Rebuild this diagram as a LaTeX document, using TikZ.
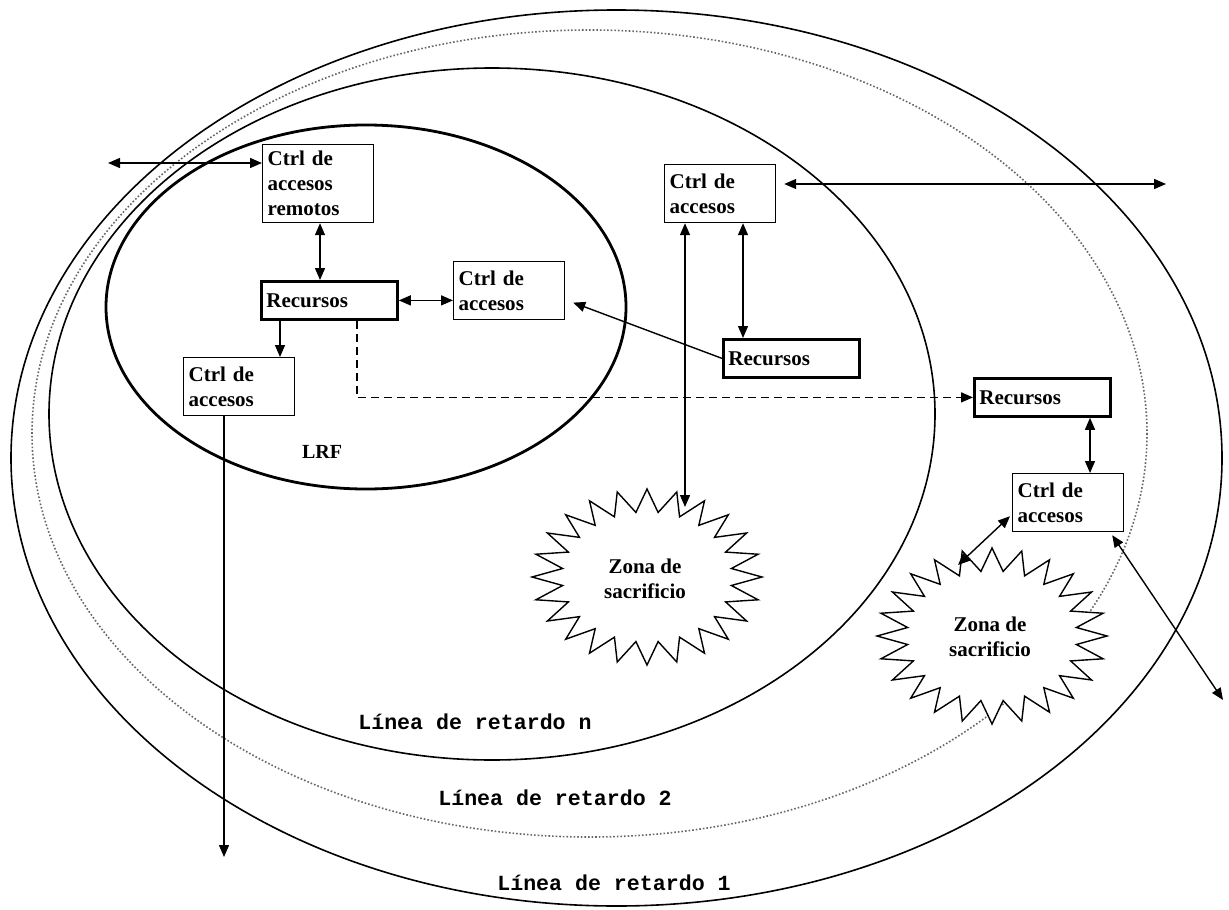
\documentclass[tikz,border=0pt]{standalone}
\usepackage{fontspec}
\setmainfont{Liberation Serif}
\newfontfamily\lineafont{Liberation Mono}
\usepackage{tikz}
\usetikzlibrary{arrows.meta,positioning,calc,backgrounds}

\begin{document}
\begin{tikzpicture}[x=0.5pt, y=-0.5pt,
  font=\bfseries\fontsize{10.5}{12.5}\selectfont,
  ctrl/.style={rectangle, draw=black, line width=0.6pt, fill=white, anchor=north west,
               align=left, inner sep=2.5pt, text width=50.5pt, minimum height=29pt},
  rec/.style={rectangle, draw=black, line width=1.4pt, fill=white, anchor=north west,
              align=left, inner sep=2.5pt, text width=63pt, minimum height=19pt},
  ring/.style={line width=0.8pt},
  lbl/.style={font=\lineafont\bfseries\fontsize{10.8}{13}\selectfont},
  spiky/.style={draw, line width=0.7pt, fill=white},
  ar/.style={{Triangle[length=6pt,width=5pt]}-{Triangle[length=6pt,width=5pt]}, line width=0.7pt},
  arr/.style={-{Triangle[length=6pt,width=5pt]}, line width=0.7pt}]
  \useasboundingbox (0,0) rectangle (1229,909);
  % delay lines
  \begin{scope}[on background layer]
    \fill[white] (0,0) rectangle (1229,909);
    \draw[ring] (616.5,458) ellipse [x radius=605.5, y radius=448];
    \draw[ring, densely dotted, black!60] (589.5,433.5) ellipse [x radius=557.5, y radius=403.5];
    \draw[ring] (492,414) ellipse [x radius=443, y radius=346];
    \draw[line width=1.4pt] (366,307) ellipse [x radius=260, y radius=182];
  \end{scope}
  % sacrifice zones
  \draw[spiky] plot[domain=0:360, samples=49, variable=\t]
    ({647+115*(1-0.26*mod(round(\t/7.5),2))*cos(\t)}, {577+88*(1-0.26*mod(round(\t/7.5),2))*sin(\t)}) -- cycle;
  \draw[spiky] plot[domain=0:360, samples=49, variable=\t]
    ({992+115*(1-0.26*mod(round(\t/7.5),2))*cos(\t)}, {636+88*(1-0.26*mod(round(\t/7.5),2))*sin(\t)}) -- cycle;
  \node[align=center] (zona1) at (645,579) {Zona de\\sacrificio};
  \node[align=center] (zona2) at (990,637) {Zona de\\sacrificio};
  % boxes
  \node[ctrl, minimum height=39pt] (remotos) at (262,144) {Ctrl de\\accesos\\remotos};
  \node[rec] (rec1) at (260,280) {Recursos};
  \node[ctrl] (ctrlR) at (453,261) {Ctrl de\\accesos};
  \node[ctrl] (ctrlLL) at (183,357) {Ctrl de\\accesos};
  \node[ctrl] (ctrlM) at (664,164) {Ctrl de\\accesos};
  \node[rec] (recM) at (722,338) {Recursos};
  \node[rec] (recR) at (973,377) {Recursos};
  \node[ctrl] (ctrlLR) at (1012,473) {Ctrl de\\accesos};
  \node[font=\bfseries\fontsize{10}{12}\selectfont] (lrf) at (322,452) {LRF};
  \node[lbl] (lrn) at (475,722) {Línea de retardo n};
  \node[lbl] (lr2) at (555,798) {Línea de retardo 2};
  \node[lbl] (lr1) at (614,883) {Línea de retardo 1};
  % free ends
  \coordinate (lend) at (108,163);
  \coordinate (rend) at (1166,184);
  \coordinate (dend) at (224,857);
  \coordinate (z1top) at (685,507);
  \coordinate (z2arm) at (958,565);
  \coordinate (brend) at (1223,700);
  \coordinate (mtop) at ($(ctrlM.south west)+(79,0)$);
  \coordinate (rtop) at ($(recR.south west)+(117,0)$);
  % connectors
  \draw[ar] (lend) -- (remotos.west |- lend);
  \draw[ar] ($(ctrlM.north east)+(8,20)$) -- (rend);
  \draw[ar] ($(remotos.south west)+(58,0)$) -- ($(rec1.north west)+(60,0)$);
  \draw[ar] (rec1.east) -- (rec1.east -| ctrlR.west);
  \draw[arr] ($(rec1.south west)+(20,0)$) -- ($(ctrlLL.north west)+(97,0)$);
  \draw[arr, dash pattern=on 4pt off 2.5pt] ($(rec1.south west)+(97,0)$) |- (recR.west);
  \draw[arr] (ctrlLL.south -| dend) -- (dend);
  \draw[ar] ($(ctrlM.south west)+(21,0)$) -- (z1top);
  \draw[ar] (mtop) -- (mtop |- recM.north);
  \draw[arr] (recM.west) -- ($(ctrlR.east)+(8,12)$);
  \draw[ar] (rtop) -- (rtop |- ctrlLR.north);
  \draw[ar] ($(ctrlLR.south west)+(-2,-16)$) -- (z2arm);
  \draw[ar] ($(ctrlLR.south east)+(-12,3)$) -- (brend);
\end{tikzpicture}
\end{document}
